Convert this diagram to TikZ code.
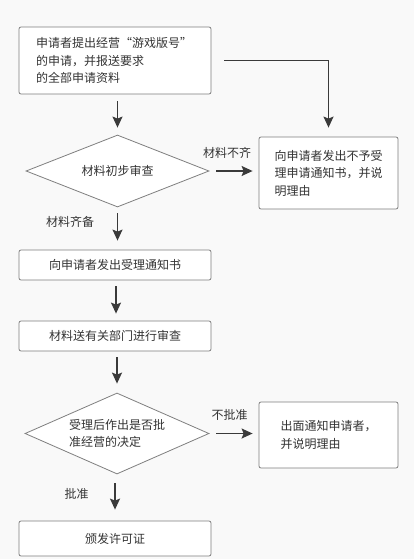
\documentclass[tikz,border=0pt]{standalone}
\usepackage{fontspec}
\newfontfamily\cjk{Noto Sans CJK SC}
\usetikzlibrary{shapes.geometric,arrows.meta}
\definecolor{bgc}{HTML}{F9F9F9}
\definecolor{bordc}{HTML}{7F7F7F}
\definecolor{arrc}{HTML}{3A3A3A}
\definecolor{txtc}{HTML}{333333}
\tikzset{
  every node/.style={font=\cjk\fontsize{12}{17.5}\selectfont, text=txtc},
  procbox/.style={draw=bordc, line width=0.8pt, fill=white, rounded corners=2pt, align=left, inner sep=0pt},
  decide/.style={diamond, draw=bordc, line width=0.8pt, fill=white, aspect=2.5, inner sep=0pt, align=left},
  arr/.style={draw=arrc, line width=1.4pt, -{Stealth[length=11pt,width=10pt,inset=2pt]}},
  lab/.style={inner sep=0pt}
}
\begin{document}
\begin{tikzpicture}[x=1pt,y=-1pt]
\fill[bgc] (0,0) rectangle (414,559);
\useasboundingbox (0,0) rectangle (414,559);

\node[procbox, minimum width=192pt, minimum height=67pt, text width=158pt, inner xsep=17pt] (b1) at (115,60.5)
  {申请者提出经营“游戏版号”\\的申请，并报送要求\\的全部申请资料};
\node[decide, minimum width=183pt, minimum height=72pt] (d1) at (117.5,171) {材料初步审查};
\node[procbox, minimum width=139pt, minimum height=72pt] (b2) at (328.5,173)
  {向申请者发出不予受\\理申请通知书，并说\\明理由};
\node[procbox, minimum width=192pt, minimum height=30pt, align=center] (b3) at (115,265) {向申请者发出受理通知书};
\node[procbox, minimum width=192pt, minimum height=30pt, align=center] (b4) at (115,336) {材料送有关部门进行审查};
\node[decide, minimum width=184pt, minimum height=81pt] (d2) at (117,433.5)
  {受理后作出是否批\\准经营的决定};
\node[procbox, minimum width=139pt, minimum height=66pt] (b5) at (328.5,435)
  {出面通知申请者，\\并说明理由};
\node[procbox, minimum width=192pt, minimum height=35pt, align=center] (b6) at (115,538.5) {颁发许可证};

\node[lab] (l1) at (227,152.5) {材料不齐};
\node[lab] (l2) at (70,222) {材料齐备};
\node[lab] (l3) at (229.5,414.5) {不批准};
\node[lab] (l4) at (76.5,494) {批准};

\draw[arr, shorten <=7pt, shorten >=7pt] (b1.south -| d1.north) -- (d1.north);
\draw[arr, shorten <=13pt, shorten >=9pt] (b1.east) -| (b2.north);
\draw[arr, shorten <=7pt, shorten >=6pt] (d1.east) -- (d1.east -| b2.west);
\draw[arr, shorten <=6pt, shorten >=9pt] (d1.south) -- (d1.south |- b3.north);
\draw[arr, shorten <=6pt, shorten >=7pt] ([xshift=1pt]b3.south) -- ([xshift=1pt]b4.north);
\draw[arr, shorten <=6pt, shorten >=9pt] (b4.south -| d2.north) -- (d2.north);
\draw[arr, shorten <=7pt, shorten >=6pt] (d2.east) -- (d2.east -| b5.west);
\draw[arr, shorten <=9pt, shorten >=11pt] (d2.south -| b6.north) -- (b6.north);
\end{tikzpicture}
\end{document}
